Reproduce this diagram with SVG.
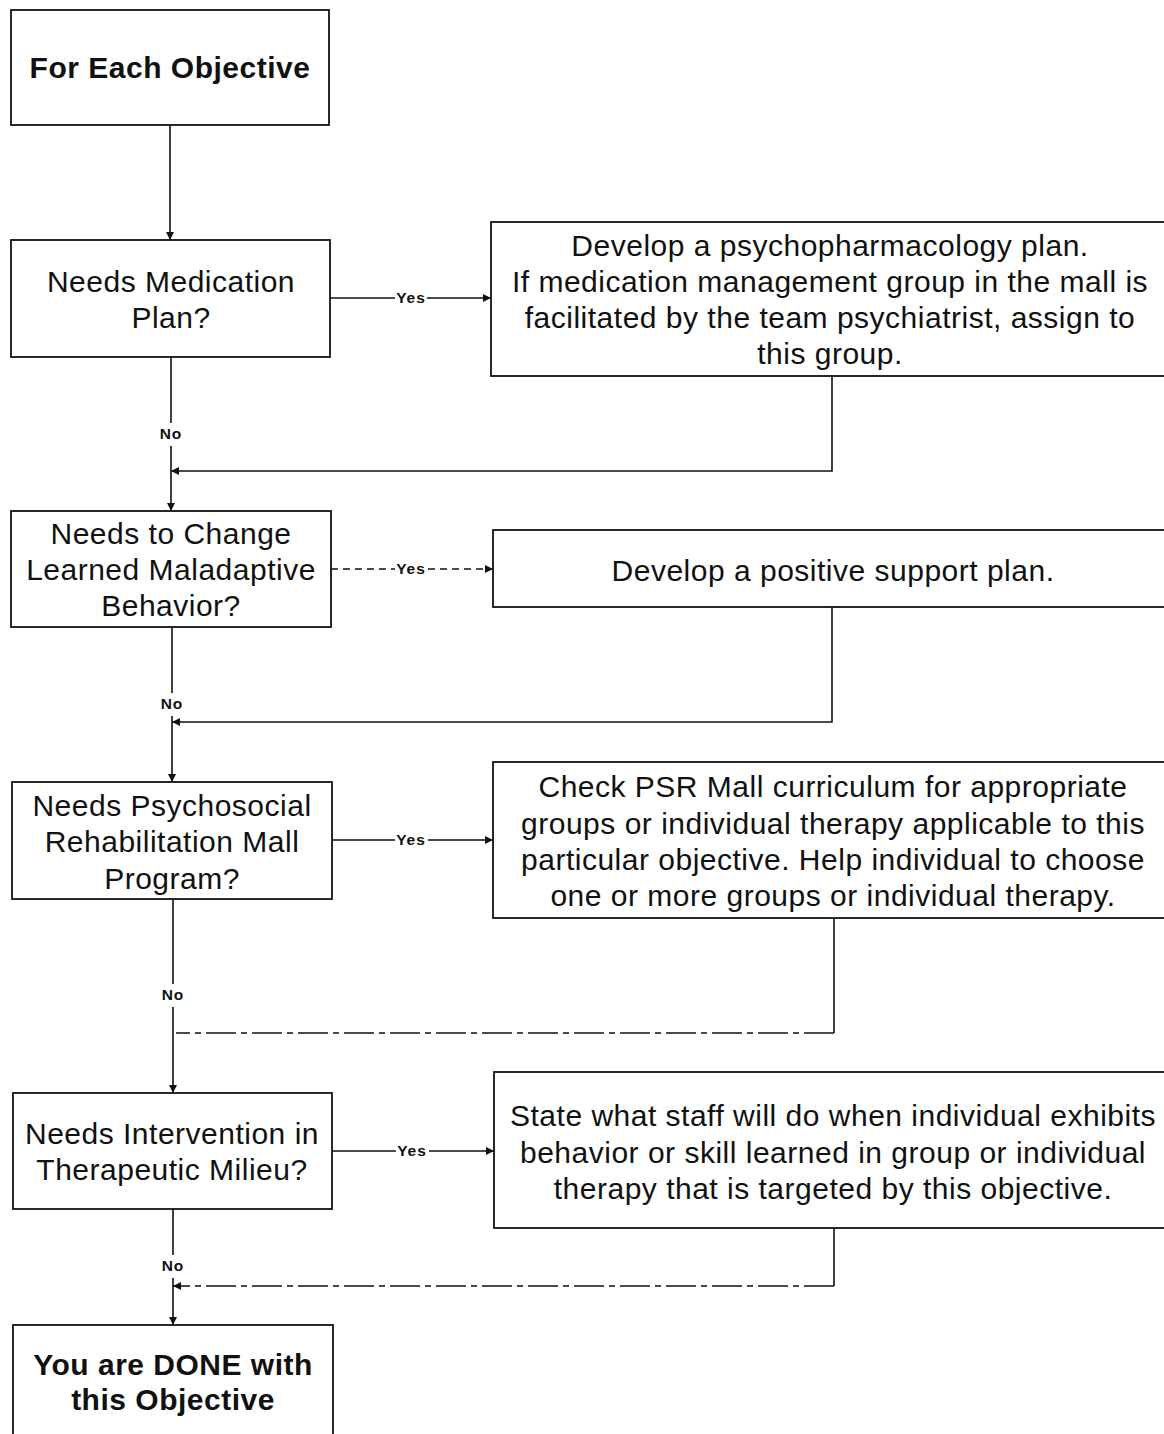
<svg xmlns="http://www.w3.org/2000/svg" width="1164" height="1434" viewBox="0 0 1164 1434">
<style>
.box{fill:#fff;stroke:#111;stroke-width:1.8}
.t{font-family:"Liberation Sans",Arial,sans-serif;font-size:30px;letter-spacing:0.5px;fill:#111;text-anchor:middle}
.b{font-weight:bold}
.lbl{font-family:"Liberation Sans",Arial,sans-serif;font-size:15.5px;font-weight:bold;letter-spacing:1px;fill:#111;text-anchor:middle}
.c{fill:none;stroke:#111;stroke-width:1.6}
.d1{stroke-dasharray:7 5}
.d2{stroke-dasharray:30 5 6 5}
</style>
<defs>
<marker id="ah" viewBox="0 0 10 10" refX="10" refY="5" markerWidth="10" markerHeight="8" markerUnits="userSpaceOnUse" orient="auto">
<path d="M0,0 L10,5 L0,10 z" fill="#111"/>
</marker>
</defs>
<rect width="1164" height="1434" fill="#fff"/>

<g id="connectors">
<path class="c" d="M170,125 V240" marker-end="url(#ah)"/>
<!-- Medication -->
<path class="c" d="M330,298 H395 M427,298 H491" marker-end="url(#ah)"/>
<path class="c" d="M171,357 V423 M171,446 V511" marker-end="url(#ah)"/>
<path class="c" d="M832,376 V471 H171" marker-end="url(#ah)"/>
<!-- Maladaptive -->
<path class="c d1" d="M331,569 H395 M428,569 H493" marker-end="url(#ah)"/>
<path class="c" d="M172,627 V693 M172,716 V782" marker-end="url(#ah)"/>
<path class="c" d="M832,607 V722 H172" marker-end="url(#ah)"/>
<!-- PSR -->
<path class="c" d="M332,840 H395 M428,840 H493" marker-end="url(#ah)"/>
<path class="c" d="M173,899 V984 M173,1007 V1093" marker-end="url(#ah)"/>
<path class="c" d="M834,918 V1033"/>
<path class="c d2" d="M834,1033 H176"/>
<!-- Milieu -->
<path class="c" d="M332,1151 H396 M429,1151 H494" marker-end="url(#ah)"/>
<path class="c" d="M173,1209 V1255 M173,1278 V1325" marker-end="url(#ah)"/>
<path class="c" d="M834,1228 V1286"/>
<path class="c d2" d="M834,1286 H173" marker-end="url(#ah)"/>
<text class="lbl" x="411" y="303">Yes</text>
<text class="lbl" x="411" y="574">Yes</text>
<text class="lbl" x="411" y="845">Yes</text>
<text class="lbl" x="412" y="1156">Yes</text>
<text class="lbl" x="171" y="439">No</text>
<text class="lbl" x="172" y="709">No</text>
<text class="lbl" x="173" y="1000">No</text>
<text class="lbl" x="173" y="1271">No</text>
</g>

<g id="start">
<rect class="box" x="11" y="10" width="318" height="115"/>
<text class="t b" x="170" y="78">For Each Objective</text>
</g>

<g id="q-medication">
<rect class="box" x="11" y="240" width="319" height="117"/>
<text class="t" x="171" y="292">Needs Medication</text>
<text class="t" x="171" y="328">Plan?</text>
</g>

<g id="a-medication">
<rect class="box" x="491" y="222" width="690" height="154"/>
<text class="t" x="830" y="256">Develop a psychopharmacology plan.</text>
<text class="t" x="830" y="292">If medication management group in the mall is</text>
<text class="t" x="830" y="328">facilitated by the team psychiatrist, assign to</text>
<text class="t" x="830" y="364">this group.</text>
</g>

<g id="q-maladaptive">
<rect class="box" x="11" y="511" width="320" height="116"/>
<text class="t" x="171" y="544">Needs to Change</text>
<text class="t" x="171" y="580">Learned Maladaptive</text>
<text class="t" x="171" y="616">Behavior?</text>
</g>

<g id="a-maladaptive">
<rect class="box" x="493" y="530" width="690" height="77"/>
<text class="t" x="833" y="581">Develop a positive support plan.</text>
</g>

<g id="q-psr">
<rect class="box" x="12" y="782" width="320" height="117"/>
<text class="t" x="172" y="816">Needs Psychosocial</text>
<text class="t" x="172" y="852">Rehabilitation Mall</text>
<text class="t" x="172" y="889">Program?</text>
</g>

<g id="a-psr">
<rect class="box" x="493" y="762" width="690" height="156"/>
<text class="t" x="833" y="797">Check PSR Mall curriculum for appropriate</text>
<text class="t" x="833" y="834">groups or individual therapy applicable to this</text>
<text class="t" x="833" y="870">particular objective. Help individual to choose</text>
<text class="t" x="833" y="906">one or more groups or individual therapy.</text>
</g>

<g id="q-milieu">
<rect class="box" x="13" y="1093" width="319" height="116"/>
<text class="t" x="172" y="1144">Needs Intervention in</text>
<text class="t" x="172" y="1180">Therapeutic Milieu?</text>
</g>

<g id="a-milieu">
<rect class="box" x="494" y="1072" width="690" height="156"/>
<text class="t" x="833" y="1126">State what staff will do when individual exhibits</text>
<text class="t" x="833" y="1163">behavior or skill learned in group or individual</text>
<text class="t" x="833" y="1199">therapy that is targeted by this objective.</text>
</g>

<g id="done">
<rect class="box" x="13" y="1325" width="320" height="130"/>
<text class="t b" x="173" y="1375">You are DONE with</text>
<text class="t b" x="173" y="1410">this Objective</text>
</g>
</svg>
